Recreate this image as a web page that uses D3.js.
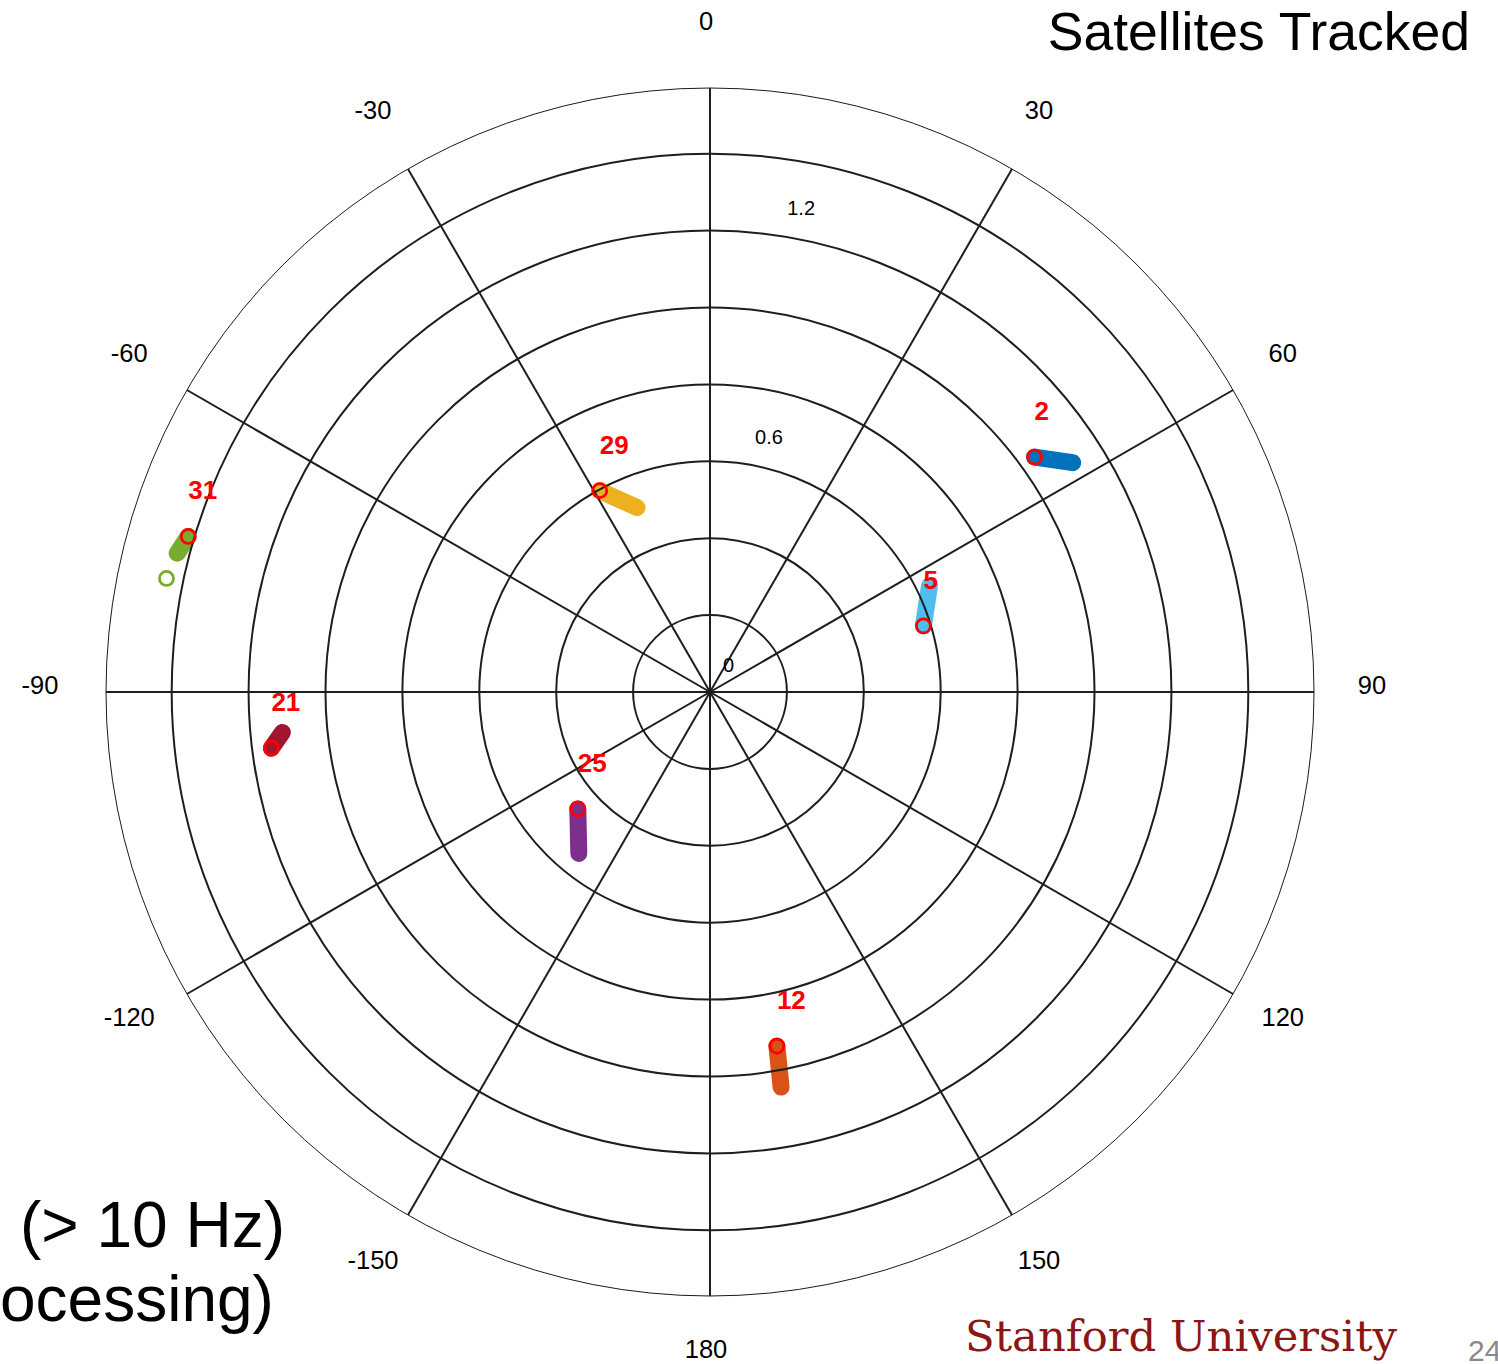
<!DOCTYPE html>
<html>
<head>
<meta charset="utf-8">
<script src="https://cdn.jsdelivr.net/npm/d3@7"></script>
<style>
  html, body { margin:0; padding:0; background:#fff; }
  svg { display:block; }
</style>
</head>
<body>
<script>
// ---- data (azimuth in degrees, clockwise from north; zenith angle in rad) ----
const prns     = [2, 5, 29, 31, 21, 25, 12];
const azStart  = [54.1, 72.8, -28.7, -73.4, -97.3, -131.5, 169.3];
const azEnd    = [57.7, 64.2, -21.6, -75.4, -95.4, -140.9, 169.8];
const zenStart = [1.042, 0.581, 0.597, 1.416, 1.150, 0.459, 0.937];
const zenEnd   = [1.116, 0.634, 0.516, 1.432, 1.117, 0.541, 1.044];

// lone hollow marker (latest fix of PRN 31)
const extraPrn = [31];
const extraAz  = [-78.2];
const extraZen = [1.444];

const ringValues   = [0.2, 0.4, 0.6, 0.8, 1.0, 1.2, 1.4];
const radialLabels = [0, 0.6, 1.2];
const spokeAngles  = [0, 30, 60, 90, 120, 150, 180, -150, -120, -90, -60, -30];

const W = 1498, H = 1364;
const cx = 710, cy = 692;

const color = d3.scaleOrdinal(prns,
  ["#0072BD", "#4DBEEE", "#EDB120", "#77AC30", "#A2142F", "#7E2F8E", "#D95319"]);

const r = d3.scaleLinear().domain([0, Math.PI / 2]).range([0, 604]);
const rad = deg => deg * Math.PI / 180;

const tracks = prns.map((prn, i) => ({
  prn,
  pts: [
    { az: azStart[i], zen: zenStart[i] },
    { az: azEnd[i],   zen: zenEnd[i] }
  ]
}));

const svg = d3.select("body").append("svg")
  .attr("width", W).attr("height", H)
  .attr("font-family", "'Liberation Sans', Arial, sans-serif");

svg.append("rect").attr("width", W).attr("height", H).attr("fill", "#fff");

const g = svg.append("g").attr("transform", `translate(${cx},${cy})`);

// --- tracks (thick rounded strokes) ------------------------------
const line = d3.lineRadial()
  .angle(d => rad(d.az))
  .radius(d => r(d.zen));

g.append("g").selectAll("path")
  .data(tracks)
  .join("path")
    .attr("d", d => line(d.pts))
    .attr("fill", "none")
    .attr("stroke", d => color(d.prn))
    .attr("stroke-width", 17)
    .attr("stroke-linecap", "round");

// --- grid --------------------------------------------------------
const grid = g.append("g").attr("fill", "none").attr("stroke", "#1e1e1e");

grid.selectAll("circle.ring")
  .data(ringValues)
  .join("circle")
    .attr("class", "ring")
    .attr("r", d => r(d))
    .attr("stroke-width", 2);

grid.append("circle")
  .attr("r", r(Math.PI / 2))
  .attr("stroke", "#000")
  .attr("stroke-width", 0.9);

grid.selectAll("line")
  .data(spokeAngles)
  .join("line")
    .attr("x1", 0).attr("y1", 0)
    .attr("x2", d => d3.pointRadial(rad(d), r(Math.PI / 2))[0])
    .attr("y2", d => d3.pointRadial(rad(d), r(Math.PI / 2))[1])
    .attr("stroke-width", 2);

// angle labels
g.append("g").selectAll("text")
  .data(spokeAngles)
  .join("text")
    .attr("x", d => d3.pointRadial(rad(d), 666)[0] - 4)
    .attr("y", d => d3.pointRadial(rad(d), 664)[1] - 7)
    .attr("text-anchor", "middle")
    .attr("dominant-baseline", "central")
    .attr("font-size", 25.5)
    .attr("fill", "#000")
    .text(d => d);

// radial labels (along 8 deg spoke)
g.append("g").selectAll("text")
  .data(radialLabels)
  .join("text")
    .attr("x", d => d3.pointRadial(rad(8), r(d))[0] + 13)
    .attr("y", d => d3.pointRadial(rad(8), r(d))[1] - 20)
    .attr("font-size", 20)
    .attr("fill", "#000")
    .text(d => d);

// --- start markers + PRN labels ----------------------------------
const startPos = d => d3.pointRadial(rad(d.pts[0].az), r(d.pts[0].zen));

g.append("g").selectAll("circle")
  .data(tracks)
  .join("circle")
    .attr("cx", d => startPos(d)[0])
    .attr("cy", d => startPos(d)[1])
    .attr("r", 7)
    .attr("fill", "none")
    .attr("stroke", "#ff0000")
    .attr("stroke-width", 2.8);

g.append("g").selectAll("text")
  .data(tracks)
  .join("text")
    .attr("x", d => startPos(d)[0])
    .attr("y", d => startPos(d)[1] - 37)
    .attr("font-size", 26)
    .attr("font-weight", "bold")
    .attr("fill", "#ff0000")
    .text(d => d.prn);

// hollow marker(s)
g.append("g").selectAll("circle")
  .data(extraPrn.map((prn, i) => ({ prn, az: extraAz[i], zen: extraZen[i] })))
  .join("circle")
    .attr("cx", d => d3.pointRadial(rad(d.az), r(d.zen))[0])
    .attr("cy", d => d3.pointRadial(rad(d.az), r(d.zen))[1])
    .attr("r", 7)
    .attr("fill", "none")
    .attr("stroke", d => color(d.prn))
    .attr("stroke-width", 2.8);

// --- slide text around the chart ---------------------------------
svg.append("text")
  .attr("x", 1470).attr("y", 50)
  .attr("text-anchor", "end")
  .attr("font-size", 53.5)
  .attr("fill", "#000")
  .text("Satellites Tracked");

svg.append("text")
  .attr("x", 20).attr("y", 1247)
  .attr("font-size", 64)
  .attr("fill", "#000")
  .text("(> 10 Hz)");

svg.append("text")
  .attr("x", 0).attr("y", 1321)
  .attr("font-size", 64)
  .attr("fill", "#000")
  .text("ocessing)");

svg.append("text")
  .attr("x", 965).attr("y", 1351)
  .attr("font-family", "'DejaVu Serif', serif")
  .attr("font-size", 42)
  .attr("textLength", 432)
  .attr("lengthAdjust", "spacingAndGlyphs")
  .attr("fill", "#8C1515")
  .text("Stanford University");

svg.append("text")
  .attr("x", 1468).attr("y", 1361)
  .attr("font-size", 30)
  .attr("fill", "#8a8a8a")
  .text("24");
</script>
</body>
</html>
